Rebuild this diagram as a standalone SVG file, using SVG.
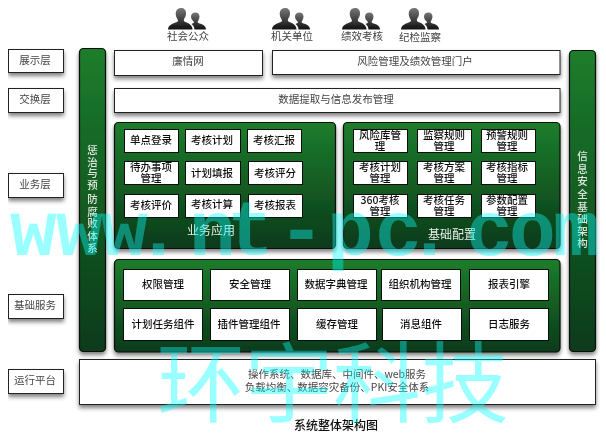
<svg xmlns="http://www.w3.org/2000/svg" width="606" height="436" viewBox="0 0 606 436">
<defs>
<linearGradient id="g" x1="0" y1="0" x2="0" y2="1"><stop offset="0" stop-color="#1c7d2c"/><stop offset="1" stop-color="#0b3a1a"/></linearGradient>
<linearGradient id="p" x1="0" y1="0" x2="0" y2="1"><stop offset="0" stop-color="#777"/><stop offset="1" stop-color="#111"/></linearGradient>
<filter id="s" x="-20%" y="-20%" width="140%" height="160%"><feDropShadow dx="0" dy="3" stdDeviation="2" flood-color="#000" flood-opacity=".5"/></filter>
<filter id="b" x="0" y="0" width="100%" height="100%"><feGaussianBlur stdDeviation="0.3"/></filter>
<symbol id="person" viewBox="0 0 38 22" overflow="visible">
<path fill="url(#p)" d="M0 21.500C0 17 5 15.500 9 14C10.500 13 10 12 9 10.500C7.500 8 7.500 5 8 3.500C9 0.800 11 0 13 0C16 0 18 2 18 5C18 7.500 17.500 9 16 11C15.500 12.500 16 13.500 18 14.300C20 15 21 15.500 22 16.500C24 18 24.500 20 24.500 21.500Z"/>
<path fill="url(#p)" d="M23 8.500C23 6 25 4.500 27.500 4.500C30 4.500 31.500 6.500 31.500 8.500C31.500 11 30 13 29.500 14C30 15.500 33 15.500 35 16.800C37 18 38 20 38 21.500L26.500 21.500C26.500 19 25 17 23.500 16C24.500 15.500 26 15 26 14C24.500 12.500 23 11 23 8.500Z"/>
</symbol>
</defs>
<style>
text{font-family:"Noto Sans CJK SC","Liberation Sans",sans-serif;text-anchor:middle}
.w{fill:#fff;stroke:#222;stroke-width:1}
.sh{filter:url(#s)}
.gp{fill:url(#g);stroke:#0a0f0a;stroke-width:1.200}
.c{fill:#fff;stroke:#111;stroke-width:1}
.t{font-size:10.500px;fill:#444}
.k{font-size:10.500px;fill:#111;font-weight:500}
.v{font-size:10.500px;fill:#dde8dd;font-weight:500}
.pt{font-size:12px;fill:#e8f0e8}
.wm{fill:#00ffff;fill-opacity:.4}
</style>
<g filter="url(#b)">
<g id="users">
<g id="u1"><use href="#person" x="168" y="8" width="38" height="22"/><text class="t" x="188" y="40">社会公众</text></g>
<g id="u2"><use href="#person" x="272" y="8" width="38" height="22"/><text class="t" x="292" y="40">机关单位</text></g>
<g id="u3"><use href="#person" x="342" y="8" width="38" height="22"/><text class="t" x="362" y="40">绩效考核</text></g>
<g id="u4"><use href="#person" x="401" y="8" width="38" height="22"/><text class="t" x="420" y="41">纪检监察</text></g>
</g>
<g id="layers">
<g id="l1"><rect class="w sh" x="8.500" y="49.500" width="55" height="23"/><text class="t" x="35" y="64">展示层</text></g>
<g id="l2"><rect class="w sh" x="8.500" y="88.500" width="55" height="24"/><text class="t" x="35" y="103">交换层</text></g>
<g id="l3"><rect class="w sh" x="8.500" y="173.500" width="55" height="24"/><text class="t" x="35" y="188">业务层</text></g>
<g id="l4"><rect class="w sh" x="8.500" y="294.500" width="55" height="24"/><text class="t" x="35" y="309">基础服务</text></g>
<g id="l5"><rect class="w sh" x="8.500" y="369.500" width="55" height="24"/><text class="t" x="35" y="384">运行平台</text></g>
</g>
<g id="left-col"><rect class="gp sh" x="79.500" y="48.500" width="26" height="303" rx="4"/>
<text class="v"><tspan x="92.500" y="154">惩</tspan><tspan x="92.500" y="166">治</tspan><tspan x="92.500" y="177">与</tspan><tspan x="92.500" y="189">预</tspan><tspan x="92.500" y="203">防</tspan><tspan x="92.500" y="216">腐</tspan><tspan x="92.500" y="227">败</tspan><tspan x="92.500" y="240">体</tspan><tspan x="92.500" y="252">系</tspan></text></g>
<g id="right-col"><rect class="gp sh" x="569.500" y="50.500" width="26" height="301" rx="4"/>
<text class="v"><tspan x="582.500" y="160">信</tspan><tspan x="582.500" y="173">息</tspan><tspan x="582.500" y="185">安</tspan><tspan x="582.500" y="198">全</tspan><tspan x="582.500" y="211">基</tspan><tspan x="582.500" y="223">础</tspan><tspan x="582.500" y="235">架</tspan><tspan x="582.500" y="247">构</tspan></text></g>
<g id="portal1"><rect class="w sh" x="114.500" y="50.500" width="148" height="25"/><text class="t" x="188" y="65">廉情网</text></g>
<g id="portal2"><rect class="w sh" x="272.500" y="50.500" width="287.500" height="24"/><text class="t" x="415" y="65">风险管理及绩效管理门户</text></g>
<g id="exchange"><rect class="w sh" x="114.500" y="88.500" width="445.500" height="24"/><text class="t" x="336" y="103">数据提取与信息发布管理</text></g>
<g id="panel-app"><rect class="gp sh" x="114.500" y="122.500" width="221" height="126" rx="4"/>
<text class="pt" x="211" y="235">业务应用</text>
<rect class="c" x="124.500" y="129.500" width="54" height="23"/><text class="k" x="151" y="144">单点登录</text>
<rect class="c" x="185.500" y="129.500" width="55" height="23"/><text class="k" x="212" y="144">考核计划</text>
<rect class="c" x="247.500" y="129.500" width="54" height="23"/><text class="k" x="274" y="144">考核汇报</text>
<rect class="c" x="124.500" y="161.500" width="54" height="23"/><text class="k" x="151" y="171">待办事项</text><text class="k" x="151" y="182">管理</text>
<rect class="c" x="185.500" y="161.500" width="55" height="23"/><text class="k" x="212" y="177">计划填报</text>
<rect class="c" x="248.500" y="161.500" width="54" height="23"/><text class="k" x="275" y="177">考核评分</text>
<rect class="c" x="124.500" y="194.500" width="54" height="23"/><text class="k" x="151" y="209">考核评价</text>
<rect class="c" x="185.500" y="194.500" width="55" height="23"/><text class="k" x="212" y="208">考核计算</text>
<rect class="c" x="248.500" y="194.500" width="54" height="23"/><text class="k" x="275" y="209">考核报表</text>
</g>
<g id="panel-config"><rect class="gp sh" x="343.500" y="122.500" width="216.500" height="126" rx="4"/>
<text class="pt" x="452" y="239">基础配置</text>
<rect class="c" x="353.500" y="129.500" width="54" height="23"/><text class="k" x="380" y="139">风险库管</text><text class="k" x="380" y="150">理</text>
<rect class="c" x="417.500" y="129.500" width="54" height="23"/><text class="k" x="444" y="139">监察规则</text><text class="k" x="444" y="150">管理</text>
<rect class="c" x="481.500" y="129.500" width="54" height="23"/><text class="k" x="507" y="139">预警规则</text><text class="k" x="507" y="150">管理</text>
<rect class="c" x="353.500" y="161.500" width="54" height="23"/><text class="k" x="380" y="171">考核计划</text><text class="k" x="380" y="182">管理</text>
<rect class="c" x="417.500" y="161.500" width="54" height="23"/><text class="k" x="444" y="171">考核方案</text><text class="k" x="444" y="182">管理</text>
<rect class="c" x="481.500" y="161.500" width="54" height="23"/><text class="k" x="507" y="171">考核指标</text><text class="k" x="507" y="182">管理</text>
<rect class="c" x="353.500" y="194.500" width="54" height="23"/><text class="k" x="380" y="204">360考核</text><text class="k" x="380" y="215">管理</text>
<rect class="c" x="417.500" y="194.500" width="54" height="23"/><text class="k" x="444" y="204">考核任务</text><text class="k" x="444" y="215">管理</text>
<rect class="c" x="481.500" y="194.500" width="54" height="23"/><text class="k" x="507" y="204">参数配置</text><text class="k" x="507" y="215">管理</text>
</g>
<g id="panel-base"><rect class="gp sh" x="114.500" y="259.500" width="445.500" height="92.500" rx="4"/>
<rect class="c" x="123.500" y="269.500" width="79" height="31"/><text class="k" x="163" y="288">权限管理</text>
<rect class="c" x="210.500" y="269.500" width="79" height="31"/><text class="k" x="250" y="288">安全管理</text>
<rect class="c" x="297.500" y="269.500" width="79" height="31"/><text class="k" x="336" y="288">数据字典管理</text>
<rect class="c" x="381.500" y="269.500" width="79" height="31"/><text class="k" x="420" y="288">组织机构管理</text>
<rect class="c" x="469.500" y="269.500" width="79" height="31"/><text class="k" x="509" y="288">报表引擎</text>
<rect class="c" x="123.500" y="308.500" width="79" height="32"/><text class="k" x="163" y="328">计划任务组件</text>
<rect class="c" x="210.500" y="308.500" width="79" height="32"/><text class="k" x="249" y="328">插件管理组件</text>
<rect class="c" x="297.500" y="308.500" width="79" height="32"/><text class="k" x="337" y="328">缓存管理</text>
<rect class="c" x="382.500" y="308.500" width="79" height="32"/><text class="k" x="421" y="328">消息组件</text>
<rect class="c" x="469.500" y="308.500" width="79" height="32"/><text class="k" x="509" y="328">日志服务</text>
</g>
<g id="runtime"><rect class="w sh" x="79.500" y="359.500" width="516" height="45"/><text class="t" x="337" y="378">操作系统、数据库、中间件、web服务</text><text class="t" x="337" y="391">负载均衡、数据容灾备份、PKI安全体系</text></g>
<text x="336" y="430" font-size="12" font-weight="500" fill="#111">系统整体架构图</text>
<g id="watermark">
<text class="wm" y="255" font-size="78" font-weight="700" x="10 56 101 135 189 227 278 327 375 406 466 509 553" style="font-family:'Liberation Mono',monospace;text-anchor:start">www.nt-pc.com</text>
<text class="wm" x="333" y="415" font-size="88">环宇科技</text>
</g>
</g>
</svg>
